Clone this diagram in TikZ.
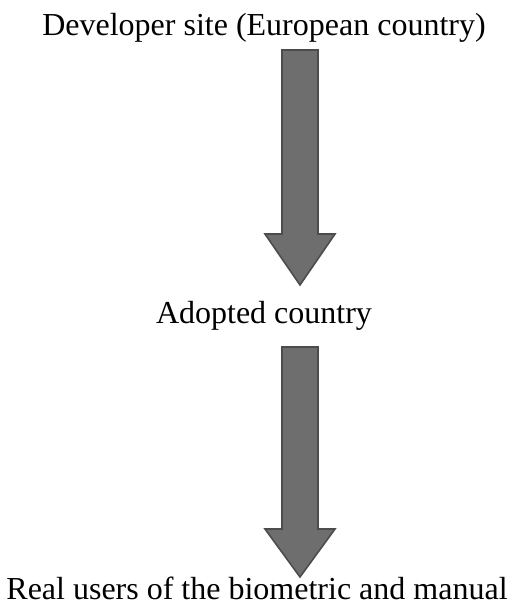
\documentclass[tikz,border=0pt]{standalone}
\usepackage{fontspec}
\setmainfont{Liberation Serif}
\begin{document}
\begin{tikzpicture}[x=1pt,y=-1pt,
  label/.style={anchor=base,inner sep=0pt,font=\fontsize{32}{38}\selectfont},
  blockarrow/.style={fill=arrowfill,draw=arrowedge,line width=1.6pt,line join=miter}]
\definecolor{arrowfill}{HTML}{6E6E6E}
\definecolor{arrowedge}{HTML}{4C4C4C}
\useasboundingbox (0,0) rectangle (516,610);
% stage labels
\node[label] (dev) at (264,36) {Developer site (European country)};
\node[label] (adopt) at (264,323) {Adopted country};
\node[label] (users) at (257,599) {Real users of the biometric and manual};
% block arrows between the stages
\draw[blockarrow] (282,50) -- (318,50) -- (318,234) -- (335,234) -- (300,285)
  -- (265,234) -- (282,234) -- cycle;
\draw[blockarrow] (282,347) -- (318,347) -- (318,529) -- (335,529) -- (300,577)
  -- (265,529) -- (282,529) -- cycle;
\end{tikzpicture}
\end{document}
